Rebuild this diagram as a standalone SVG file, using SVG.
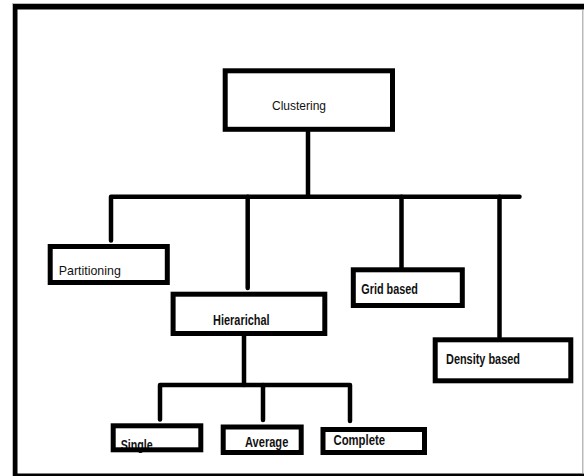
<svg xmlns="http://www.w3.org/2000/svg" width="584" height="476" viewBox="0 0 584 476">
<style>
.box{fill:#fff;stroke:#000;stroke-width:5}
.lbl{font-family:"Liberation Sans",Arial,sans-serif;font-size:13.5px;fill:#111}
.b{font-weight:bold;font-size:14px}
.con{fill:none;stroke:#000;stroke-width:4.5;stroke-linecap:round;stroke-linejoin:round}
</style>
<rect x="0" y="0" width="584" height="476" fill="#fff"/>
<g id="frame">
<rect x="12.5" y="3.5" width="572" height="474" fill="none" stroke="#bbb" stroke-width="1"/>
<rect x="13" y="4" width="571" height="5.5" fill="#000"/>
<rect x="13" y="4" width="4.5" height="472" fill="#000"/>
<rect x="13" y="473.5" width="571" height="2.5" fill="#000"/>
<rect x="582.2" y="9.5" width="1.2" height="464" fill="#aaa"/>
</g>
<g id="connectors">
<path class="con" d="M308 131.7V196.7"/>
<path class="con" d="M111 240.5V196.7H519.5"/>
<path class="con" d="M247.7 196.7V288"/>
<path class="con" d="M401.5 196.7V269"/>
<path class="con" d="M499.5 196.7V337"/>
<path class="con" d="M244 336V385"/>
<path class="con" d="M160 419.5V385H350V421"/>
<path class="con" d="M263 385V420"/>
</g>
<g id="clustering">
<rect class="box" x="225.2" y="70.8" width="167.3" height="58.5"/>
<text class="lbl" x="272" y="109.5" textLength="54" lengthAdjust="spacingAndGlyphs">Clustering</text>
</g>
<g id="partitioning">
<rect class="box" x="50.2" y="246.5" width="117.1" height="36"/>
<text class="lbl" x="58.8" y="274.5" textLength="62" lengthAdjust="spacingAndGlyphs">Partitioning</text>
</g>
<g id="hierarichal">
<rect class="box" x="173.1" y="294.2" width="151.7" height="39.3"/>
<text class="lbl b" x="213" y="325" textLength="56.6" lengthAdjust="spacingAndGlyphs">Hierarichal</text>
</g>
<g id="grid">
<rect class="box" x="353.3" y="269.8" width="109" height="35.7"/>
<text class="lbl b" x="361.3" y="293.5" textLength="56.6" lengthAdjust="spacingAndGlyphs">Grid based</text>
</g>
<g id="density">
<rect class="box" x="435.2" y="339.8" width="135.6" height="41"/>
<text class="lbl b" x="446" y="364" textLength="74" lengthAdjust="spacingAndGlyphs">Density based</text>
</g>
<g id="single">
<rect x="113.2" y="425.8" width="87.6" height="24" fill="#fff"/>
<text class="lbl b" x="120.7" y="449.5" textLength="32" lengthAdjust="spacingAndGlyphs">Single</text>
<rect x="113.2" y="425.8" width="87.6" height="24" fill="none" stroke="#000" stroke-width="5"/>
</g>
<g id="average">
<rect class="box" x="223.2" y="427" width="78" height="25.5"/>
<text class="lbl b" x="245" y="446.5" textLength="43.3" lengthAdjust="spacingAndGlyphs">Average</text>
</g>
<g id="complete">
<rect class="box" x="323" y="429.5" width="101.5" height="23"/>
<text class="lbl b" x="333.5" y="444.5" textLength="51.5" lengthAdjust="spacingAndGlyphs">Complete</text>
</g>
</svg>
